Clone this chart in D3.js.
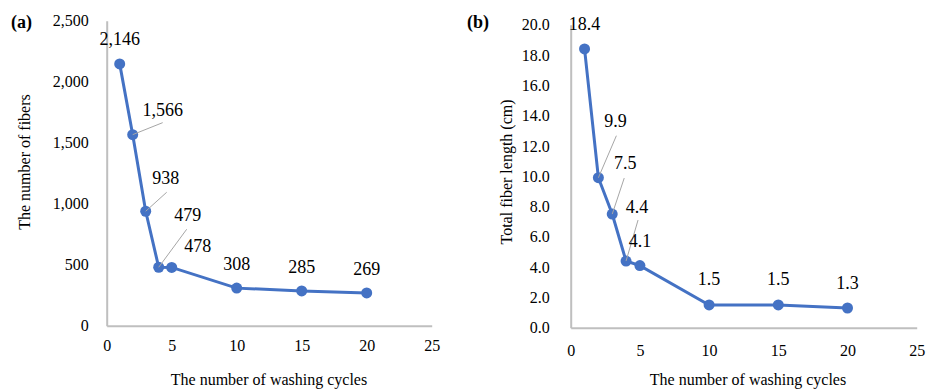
<!DOCTYPE html>
<meta charset="utf-8">
<style>
body{margin:0;background:#fff;}
svg text{fill:#000;font-family:"Liberation Serif","Times New Roman",serif;}
</style>
<body>
<div id="container"></div>
<script src="https://d3js.org/d3.v7.min.js"></script>
<script>

var width = 928,
    height = 390;

// washing cycles, shared by both panels
var cycles = [1, 2, 3, 4, 5, 10, 15, 20];
var fiberCount = [2146, 1566, 938, 479, 478, 308, 285, 269];
var fiberLength = [18.4, 9.9, 7.5, 4.4, 4.1, 1.5, 1.5, 1.3];
var xTicks = [0, 5, 10, 15, 20, 25];
var countTicks = [0, 500, 1000, 1500, 2000, 2500];
var lengthTicks = [0, 2, 4, 6, 8, 10, 12, 14, 16, 18, 20];

// label placement (offset from point to label centre, leader end)
var countLabelPos = [[0,-25],[30,-25,30,-12],[20,-33,21,-19],[29,-52,28,-38],[26,-21],[0,-24],[0,-24],[0,-24]];
var lengthLabelPos = [[0,-25],[17,-57,18,-42],[13,-51,12,-36],[11,-54,12,-41],[0,-25],[0,-26],[0,-26],[0,-25]];

var svg = d3.select("#container").append("svg")
    .attr("width", width)
    .attr("height", height);

function panel(opt) {
  var x = d3.scaleLinear().domain([0, 25]).range([opt.left, opt.right]);
  var y = d3.scaleLinear().domain([0, opt.ymax]).range([opt.bottom, opt.top]);
  var g = svg.append("g");

  var ya = g.append("g")
      .attr("transform", "translate(" + opt.left + ",0)")
      .call(d3.axisLeft(y).tickValues(opt.yticks).tickFormat(opt.fmt)
        .tickSize(0).tickPadding(opt.ypad));
  var xa = g.append("g")
      .attr("transform", "translate(0," + opt.bottom + ")")
      .call(d3.axisBottom(x).tickValues(xTicks).tickSize(0).tickPadding(opt.xpad));
  [ya, xa].forEach(function(a) {
    a.attr("font-family", null).attr("font-size", null);
    a.select(".domain").attr("stroke", "#bfbfbf").attr("stroke-width", 2);
    a.selectAll("text").style("font-size", "16px").attr("fill", "#000");
  });

  var line = d3.line().x(function(d, i) { return x(cycles[i]); }).y(function(d) { return y(d); });
  g.append("path")
      .datum(opt.values)
      .attr("d", line)
      .style("fill", "none")
      .style("stroke", "#4472c4")
      .style("stroke-width", 3);

  g.selectAll("circle").data(opt.values).enter().append("circle")
      .attr("cx", function(d, i) { return x(cycles[i]); })
      .attr("cy", function(d) { return y(d); })
      .attr("r", 5.5)
      .style("fill", "#4472c4");

  opt.values.forEach(function(v, i) {
    var px = x(cycles[i]), py = y(v), p = opt.pos[i];
    if (p.length > 2) {
      g.append("line")
          .attr("x1", px).attr("y1", py)
          .attr("x2", px + p[2]).attr("y2", py + p[3])
          .style("stroke", "#a6a6a6").style("stroke-width", 1);
    }
    g.append("text")
        .attr("x", px + p[0])
        .attr("y", py + p[1] + 6)
        .attr("text-anchor", "middle")
        .style("font-size", "18px")
        .text(opt.fmt(v));
  });

  g.append("text")
      .attr("transform", "translate(" + opt.ytitleX + "," + opt.ytitleY + ") rotate(-90)")
      .attr("text-anchor", "middle")
      .attr("dy", "0.35em")
      .style("font-size", "16px")
      .text(opt.ytitle);
  g.append("text")
      .attr("x", opt.xtitleX).attr("y", 385)
      .attr("text-anchor", "middle")
      .style("font-size", "16px")
      .text("The number of washing cycles");
  g.append("text")
      .attr("x", opt.tagX).attr("y", 28)
      .style("font-size", "18px")
      .style("font-weight", "bold")
      .text(opt.tag);
}

panel({
  left: 106.7, right: 431.7, top: 20.7, bottom: 325.7,
  ymax: 2500, yticks: countTicks, fmt: d3.format(","),
  ypad: 18, xpad: 14, values: fiberCount, pos: countLabelPos,
  ytitle: "The number of fibers", ytitleX: 24, ytitleY: 162,
  xtitleX: 269, tag: "(a)", tagX: 11
});

panel({
  left: 570.7, right: 916.7, top: 24.7, bottom: 327.7,
  ymax: 20, yticks: lengthTicks, fmt: d3.format(".1f"),
  ypad: 21, xpad: 17, values: fiberLength, pos: lengthLabelPos,
  ytitle: "Total fiber length (cm)", ytitleX: 506, ytitleY: 172,
  xtitleX: 748, tag: "(b)", tagX: 467
});

</script>
</body>
</html>
